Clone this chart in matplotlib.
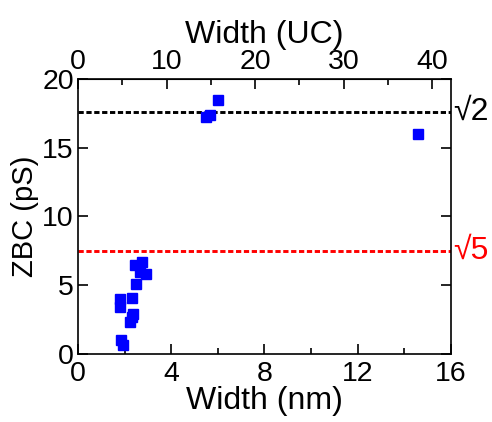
import numpy as np
import matplotlib
matplotlib.use("Agg")
import matplotlib.pyplot as plt

plt.rcParams['font.family'] = ['Liberation Sans', 'DejaVu Sans']

# width (nm) and zero-bias conductance (pS)
width_nm = [1.85, 1.93, 1.80, 1.80, 2.30, 2.30, 2.23, 2.36, 2.50,
            2.45, 2.75, 2.66, 2.90, 5.50, 5.67, 6.00, 14.6]
zbc_ps = [1.0, 0.66, 4.0, 3.4, 4.1, 2.7, 2.3, 2.9, 5.1,
          6.5, 6.7, 6.0, 5.8, 17.2, 17.4, 18.5, 16.0]

sqrt2_level = 17.6
sqrt5_level = 7.5
nm_per_uc = 0.38

tick_fs = 20.5
label_fs = 23

fig = plt.figure(figsize=(4.92, 4.22), dpi=100)
ax = fig.add_axes([0.1585, 0.161, 0.758, 0.652])

ax.plot(width_nm, zbc_ps, 's', color='#0000ff', markersize=7.5, zorder=3)
ax.axhline(sqrt2_level, color='black', ls=(0, (1.8, 0.9)), lw=2.1)
ax.axhline(sqrt5_level, color='red', ls=(0, (1.8, 0.9)), lw=2.1)

ax.set_xlim(0, 16)
ax.set_ylim(0, 20)
ax.set_xticks([0, 4, 8, 12, 16])
ax.set_xticks([2, 6, 10, 14], minor=True)
ax.set_yticks([0, 5, 10, 15, 20])
ax.tick_params(which='both', direction='in', labelsize=tick_fs, width=1.2,
               right=True, pad=3)
ax.tick_params(axis='x', which='both', pad=5)
ax.tick_params(which='major', length=7)
ax.tick_params(which='minor', length=4)
ax.set_xlabel('Width (nm)', fontsize=label_fs, labelpad=-1)
ax.set_ylabel('ZBC (pS)', fontsize=21, labelpad=2)
for s in ax.spines.values():
    s.set_linewidth(1.2)

top = ax.secondary_xaxis('top', functions=(lambda x: x / nm_per_uc,
                                           lambda u: u * nm_per_uc))
top.set_xticks([0, 10, 20, 30, 40])
top.set_xticks([5, 15, 25, 35], minor=True)
top.tick_params(which='both', direction='in', labelsize=tick_fs, width=1.2,
                pad=3)
top.tick_params(which='major', length=7)
top.tick_params(which='minor', length=4)
top.set_xlabel('Width (UC)', fontsize=label_fs, labelpad=4)

ax.text(16.1, sqrt2_level, '\u221a2', fontsize=label_fs, color='black',
        va='center', ha='left')
ax.text(16.1, sqrt5_level, '\u221a5', fontsize=label_fs, color='red',
        va='center', ha='left')

fig.savefig('out.png', dpi=100)
